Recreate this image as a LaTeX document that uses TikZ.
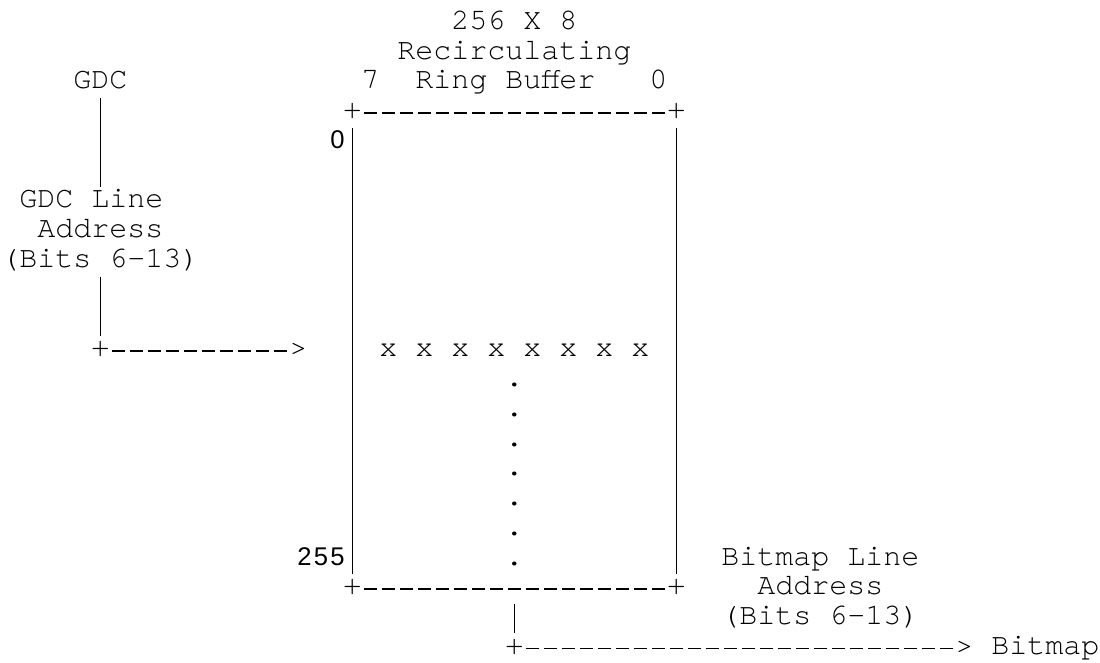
\documentclass[tikz,border=0pt]{standalone}
\usepackage{fontspec}
\usepackage{tikz}
\newfontfamily\asciifont{TeX Gyre Cursor}
\newfontfamily\rowfont{Liberation Sans}[LetterSpace=9]

\begin{document}
\begin{tikzpicture}[x=0.75pt,y=-0.75pt,
    ascii/.style={font={\asciifont\fontsize{22.5pt}{24pt}\selectfont},inner sep=0pt,
      anchor=base west,text height=15.5pt,text depth=6.75pt},
    rowno/.style={font={\rowfont\fontsize{19.2pt}{20pt}\selectfont},inner sep=0pt,
      anchor=base east,text height=15.5pt,text depth=6.75pt},
    wire/.style={line width=1pt},
    dashrule/.style={wire,dash pattern=on 10.1pt off 3.4pt,dash phase=11.8pt}]
    \useasboundingbox (0,0) rectangle (1100,663);

    % Title over the buffer
    \node[ascii] (size) at (451,29.5) {256 X 8};
    \node[ascii] (recirc) at (397,59.25) {Recirculating};
    \node[ascii] (msb) at (361,89) {7};
    \node[ascii] (ring) at (415,89) {Ring Buffer};
    \node[ascii] (lsb) at (649,89) {0};

    % Ring buffer box
    \node[ascii] (tl) at (343,118.75) {+};
    \node[ascii] (tr) at (667,118.75) {+};
    \node[ascii] (bl) at (343,594.75) {+};
    \node[ascii] (br) at (667,594.75) {+};
    \draw[dashrule] (tl.east) -- (tr.west);
    \draw[dashrule] (bl.east) -- (br.west);
    \draw[wire] (tl.south) -- (bl.north);
    \draw[wire] (tr.south) -- (br.north);
    \node[rowno] (first) at (345,148.5) {0};
    \node[rowno] (last) at (345,565) {255};

    % Current line and the rows below it
    \node[ascii] (cells) at (379,356.75) {x x x x x x x x};
    \foreach \r in {12,...,18}
      \node[ascii] (dot\r) at (505,{29.5+29.75*\r}) {.};

    % GDC side
    \node[ascii] (gdc) at (73,89) {GDC};
    \node[ascii] (gdcline) at (19,208) {GDC Line};
    \node[ascii] (gdcaddr) at (37,237.75) {Address};
    \node[ascii] (gdcbits) at (1,267.5) {(Bits 6-13)};
    \node[ascii] (gdcturn) at (91,356.75) {+};
    \node[ascii] (gdctip) at (289,356.75) {>};
    \draw[wire] (gdc.south) -- (gdc.south |- gdcline.north);
    \draw[wire] (gdcbits.south) -- (gdcturn.north);
    \draw[dashrule] (gdcturn.east) -- (gdctip.west);

    % Bitmap side
    \node[ascii] (bmline) at (721,565) {Bitmap Line};
    \node[ascii] (bmaddr) at (757,594.75) {Address};
    \node[ascii] (bmbits) at (721,624.5) {(Bits 6-13)};
    \node[ascii] (bmturn) at (505,654.25) {+};
    \node[ascii] (bmtip) at (955,654.25) {>};
    \node[ascii] (bitmap) at (991,654.25) {Bitmap};
    \draw[wire] (bmturn |- bl.south) -- (bmturn.north);
    \draw[dashrule] (bmturn.east) -- (bmtip.west);
\end{tikzpicture}
\end{document}
